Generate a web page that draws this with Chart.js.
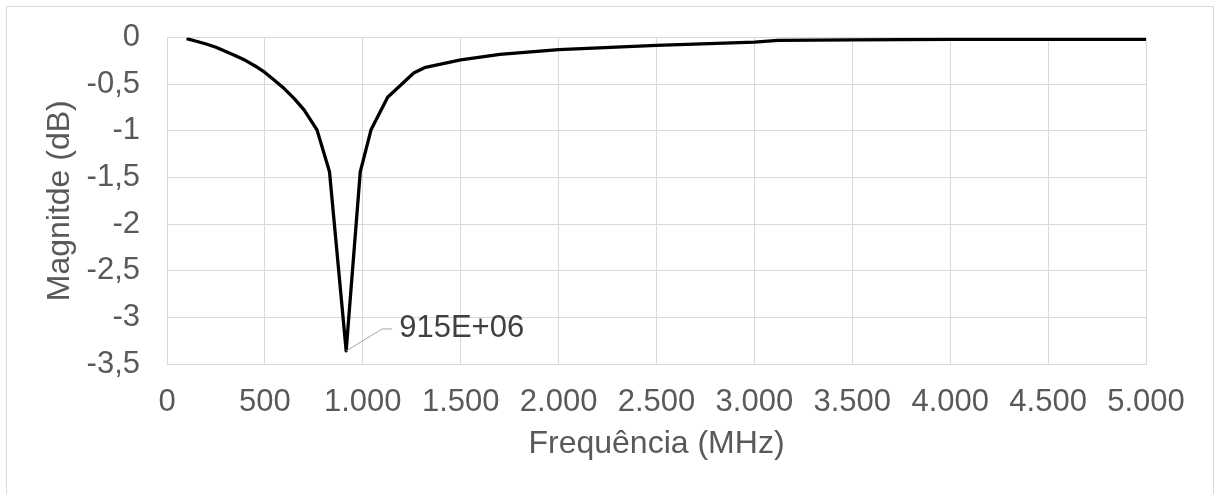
<!DOCTYPE html>
<html>
<head>
<meta charset="utf-8">
<script src="https://cdn.jsdelivr.net/npm/chart.js@4/dist/chart.umd.min.js"></script>
<style>
  html, body { margin: 0; padding: 0; background: #ffffff; }
  #wrap { width: 1215px; height: 494px; position: relative; }
</style>
</head>
<body>
<div id="wrap"><canvas id="chart" width="1215" height="494"></canvas></div>
<script>
// Frequency sweep (MHz) and measured magnitude (dB)
const frequencies = [100, 150, 200, 250, 300, 350, 400, 450, 500, 550, 600, 650, 700, 766, 830, 915, 987, 1042, 1127, 1260, 1320, 1500, 1700, 2000, 2500, 3000, 3120, 3500, 4000, 4500, 5000];
const magnitudes  = [-0.013, -0.04, -0.07, -0.105, -0.15, -0.195, -0.245, -0.305, -0.375, -0.46, -0.55, -0.655, -0.775, -0.99, -1.44, -3.36, -1.44, -0.99, -0.64, -0.38, -0.32, -0.24, -0.18, -0.13, -0.085, -0.05, -0.03, -0.025, -0.02, -0.02, -0.02];

// Axis ticks
const xTickValues = [0, 500, 1000, 1500, 2000, 2500, 3000, 3500, 4000, 4500, 5000];
const yTickValues = [0, -0.5, -1, -1.5, -2, -2.5, -3, -3.5];

// Data label on the resonance point
const markerFrequency = 915;
const markerText = '915E+06';

const FONT = '"Liberation Sans", Arial, sans-serif';
const TEXT_GREY = '#595959';
const GRID_GREY = '#d9d9d9';

function formatThousands(v) {
  if (Math.abs(v) >= 1000) {
    const th = Math.floor(v / 1000);
    const rest = String(Math.round(v % 1000)).padStart(3, '0');
    return th + '.' + rest;
  }
  return String(v);
}
function formatDecimal(v) {
  if (Object.is(v, -0) || v === 0) return '0';
  return String(v).replace('.', ',');
}

const points = frequencies.map((f, i) => ({ x: f, y: magnitudes[i] }));

// White page with a thin frame around the chart
const framePlugin = {
  id: 'frame',
  beforeDraw(chart) {
    const ctx = chart.ctx;
    ctx.save();
    ctx.fillStyle = '#ffffff';
    ctx.fillRect(0, 0, chart.width, chart.height);
    ctx.strokeStyle = GRID_GREY;
    ctx.lineWidth = 1;
    ctx.strokeRect(6.5, 6.5, 1207, 600);
    ctx.restore();
  }
};

// Leader line and value label at the notch
const markerPlugin = {
  id: 'marker',
  afterDatasetsDraw(chart) {
    const idx = frequencies.indexOf(markerFrequency);
    if (idx < 0) return;
    const xs = chart.scales.x, ys = chart.scales.y;
    const px = xs.getPixelForValue(frequencies[idx]);
    const py = ys.getPixelForValue(magnitudes[idx]);
    const ctx = chart.ctx;
    ctx.save();
    ctx.strokeStyle = '#a6a6a6';
    ctx.lineWidth = 1;
    ctx.beginPath();
    ctx.moveTo(px, py);
    ctx.lineTo(px + 36, py - 22);
    ctx.lineTo(px + 46, py - 22);
    ctx.stroke();
    ctx.fillStyle = '#404040';
    ctx.font = '31px ' + FONT;
    ctx.textAlign = 'left';
    ctx.textBaseline = 'middle';
    ctx.fillText(markerText, px + 53, py - 22);
    ctx.restore();
  }
};

new Chart(document.getElementById('chart'), {
  type: 'line',
  data: {
    datasets: [{
      data: points,
      borderColor: '#000000',
      borderWidth: 3.3,
      pointRadius: 0,
      tension: 0,
      fill: false,
      borderJoinStyle: 'round'
    }]
  },
  options: {
    responsive: false,
    animation: false,
    devicePixelRatio: 1,
    layout: { padding: { left: 0, right: 69, top: 37.5, bottom: 0 } },
    plugins: {
      legend: { display: false },
      tooltip: { enabled: false }
    },
    scales: {
      x: {
        type: 'linear',
        min: xTickValues[0],
        max: xTickValues[xTickValues.length - 1],
        afterBuildTicks(scale) { scale.ticks = xTickValues.map(v => ({ value: v })); },
        afterFit(scale) {
          scale.height = 130;
          scale.paddingLeft = 0; scale.paddingRight = 0;
          scale.paddingTop = 0; scale.paddingBottom = 0;
        },
        grid: { color: GRID_GREY, lineWidth: 1, drawTicks: false },
        border: { color: GRID_GREY, width: 1 },
        ticks: {
          padding: 20,
          color: TEXT_GREY,
          font: { family: FONT, size: 31 },
          maxRotation: 0,
          autoSkip: false,
          callback: v => formatThousands(v)
        },
        title: {
          display: true,
          text: 'Frequência (MHz)',
          color: TEXT_GREY,
          font: { family: FONT, size: 32 },
          padding: { top: 0, bottom: 31 }
        }
      },
      y: {
        type: 'linear',
        min: yTickValues[yTickValues.length - 1],
        max: yTickValues[0],
        afterBuildTicks(scale) { scale.ticks = yTickValues.slice().reverse().map(v => ({ value: v })); },
        afterFit(scale) {
          scale.width = 167;
          scale.paddingLeft = 0; scale.paddingRight = 0;
          scale.paddingTop = 0; scale.paddingBottom = 0;
        },
        grid: { color: GRID_GREY, lineWidth: 1, drawTicks: false },
        border: { color: GRID_GREY, width: 1 },
        ticks: {
          padding: 27,
          color: TEXT_GREY,
          font: { family: FONT, size: 31 },
          autoSkip: false,
          callback: v => formatDecimal(v)
        },
        title: {
          display: true,
          text: 'Magnitde (dB)',
          color: TEXT_GREY,
          font: { family: FONT, size: 32 },
          padding: { top: 41, bottom: 0 }
        }
      }
    }
  },
  plugins: [framePlugin, markerPlugin]
});
</script>
</body>
</html>
